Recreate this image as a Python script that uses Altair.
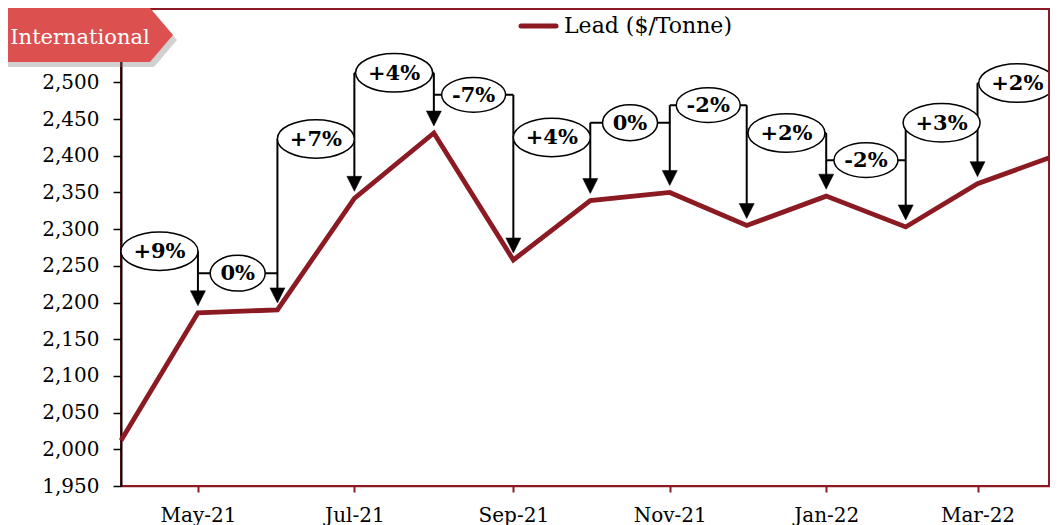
import altair as alt
import pandas as pd

# ---------------- data ----------------
months = ["2021-04-01", "2021-05-01", "2021-06-01", "2021-07-01", "2021-08-01",
          "2021-09-01", "2021-10-01", "2021-11-01", "2021-12-01", "2022-01-01",
          "2022-02-01", "2022-03-01", "2022-04-01"]
lead_prices = [2012, 2186, 2190, 2342, 2431, 2258, 2339, 2350, 2305, 2345, 2303, 2362, 2401]
change_labels = ["+9%", "0%", "+7%", "+4%", "-7%", "+4%", "0%", "-2%", "+2%", "-2%", "+3%", "+2%"]
label_levels = [2270, 2240, 2423, 2513, 2483, 2425, 2445, 2469, 2431, 2394, 2445, 2499]
tick_months = [(2021, 5), (2021, 7), (2021, 9), (2021, 11), (2022, 1), (2022, 3)]
y_ticks = list(range(1950, 2601, 50))
series_name = "Lead ($/Tonne)"
badge_text = "International"

RED = "#8C1A22"
FONT = "DejaVu Serif"

PLOT_W = 936   # full x range of the data (right end runs to the window edge)
VIEW_W = 929   # visible view width (keeps the page from being shrunk)
PLOT_H = 477


def iso(ts):
    return pd.Timestamp(ts).strftime("%Y-%m-%dT%H:%M:%SZ")


dates = [pd.Timestamp(m) for m in months]

line_df = pd.DataFrame({"date": [iso(d) for d in dates], "price": lead_prices})

lab_rows = []
for i in range(1, len(dates)):
    prev, cur = dates[i - 1], dates[i]
    txt = change_labels[i - 1]
    kind = "plus" if txt.startswith("+") else ("minus" if txt.startswith("-") else "zero")
    lab_rows.append({
        "start": iso(prev), "end": iso(cur), "mid": iso(prev + (cur - prev) / 2),
        "level": label_levels[i - 1], "text": txt, "kind": kind,
    })
lab_df = pd.DataFrame(lab_rows)

arr_rows = []
for i in range(1, len(dates)):
    here = label_levels[i - 1]
    nxt = label_levels[i] if i < len(label_levels) else here
    arr_rows.append({"date": iso(dates[i]), "price": lead_prices[i], "top": max(here, nxt)})
arr_df = pd.DataFrame(arr_rows)

x_scale = alt.Scale(type="utc", nice=False, padding=0, range=[0, PLOT_W])
y_scale = alt.Scale(domain=[1950, 2600], nice=False, zero=False)

x_axis = alt.Axis(
    values=[alt.DateTime(year=y, month=m, date=1, utc=True) for y, m in tick_months],
    labelExpr="utcFormat(datum.value, '%b-%y')",
    title=None, grid=False, labelOverlap=False,
    labelFont=FONT, labelFontSize=20, labelColor="black", labelPadding=13,
    tickColor=RED, tickSize=6, tickWidth=2,
    domainColor=RED, domainWidth=1.5,
)
y_axis = alt.Axis(
    values=y_ticks, labelExpr="format(datum.value, ',')", title=None, grid=False,
    labelOverlap=False, labelFlush=False,
    labelFont=FONT, labelFontSize=20, labelColor="black", labelPadding=14,
    tickColor="black", tickSize=8, tickWidth=1.5,
    domainColor="black", domainWidth=2,
)


def X(field):
    return alt.X(field, scale=x_scale, axis=x_axis)


def Y(field):
    return alt.Y(field, scale=y_scale, axis=y_axis)


line = alt.Chart(line_df).mark_line(color=RED, strokeWidth=4.8).encode(
    x=X("date:T"), y=Y("price:Q")
)

connectors = alt.Chart(lab_df).mark_rule(color="black", strokeWidth=2).encode(
    x=X("start:T"), x2="end:T", y=Y("level:Q")
)

shafts = alt.Chart(arr_df).mark_rule(color="black", strokeWidth=2, y2Offset=-20).encode(
    x=X("date:T"), y=Y("top:Q"), y2="price:Q"
)

heads = alt.Chart(arr_df).mark_point(
    shape="M-1,-1 L1,-1 L0,1 Z", size=225, filled=True, fill="black",
    stroke="black", strokeWidth=0.5, opacity=1, yOffset=-14.5,
).encode(x=X("date:T"), y=Y("price:Q"))


def ellipse(a, b):
    return f"M{-a},0 A{a},{b} 0 1,1 {a},0 A{a},{b} 0 1,1 {-a},0 Z"


ellipses = alt.Chart(lab_df).mark_point(
    size=77 * 77, filled=True, fill="white", stroke="black", strokeWidth=1.5,
    opacity=1, fillOpacity=1, strokeOpacity=1,
).encode(
    x=X("mid:T"), y=Y("level:Q"),
    shape=alt.Shape("kind:N", legend=None, scale=alt.Scale(
        domain=["plus", "minus", "zero"],
        range=[ellipse(1, 0.5), ellipse(0.831, 0.45), ellipse(0.714, 0.465)])),
)

texts = alt.Chart(lab_df).mark_text(
    font=FONT, fontSize=21, fontWeight="bold", color="black", baseline="middle", dy=1
).encode(x=X("mid:T"), y=Y("level:Q"), text="text:N")

# right frame edge (the view's own right stroke falls on the page edge)
frame_df = pd.DataFrame({"k": ["frame"]})
right_edge = alt.Chart(frame_df).mark_rule(color=RED, strokeWidth=2).encode(
    x=alt.value(VIEW_W - 1), y=alt.value(0), y2=alt.value(PLOT_H)
)

# legend (drawn manually inside the plot, as in the reference)
leg_df = pd.DataFrame({"name": [series_name]})
leg_line = alt.Chart(leg_df).mark_rule(color=RED, strokeWidth=5, strokeCap="round").encode(
    x=alt.value(400), x2=alt.value(435), y=alt.value(17)
)
leg_text = alt.Chart(leg_df).mark_text(
    font=FONT, fontSize=22, color="black", align="left", baseline="middle"
).encode(x=alt.value(443), y=alt.value(17), text="name:N")

# "International" badge
badge_df = pd.DataFrame({"t": [badge_text]})
badge_path = "M-1,-0.318 L0.729,-0.318 L1,0 L0.729,0.318 L-1,0.318 Z"
badge_shadow = alt.Chart(badge_df).mark_point(
    shape=badge_path, size=170 * 170, filled=True, fill="#7a7a7a", opacity=0.35, strokeWidth=0
).encode(x=alt.value(-29), y=alt.value(31))
badge = alt.Chart(badge_df).mark_point(
    shape=badge_path, size=170 * 170, filled=True, fill="#DC5050", opacity=1, strokeWidth=0
).encode(x=alt.value(-33), y=alt.value(26))
badge_label = alt.Chart(badge_df).mark_text(
    font=FONT, fontSize=21, color="white", baseline="middle"
).encode(x=alt.value(-41), y=alt.value(29), text="t:N")

chart = alt.layer(
    line, connectors, shafts, heads, ellipses, texts, right_edge,
    leg_line, leg_text, badge_shadow, badge, badge_label,
).properties(
    width=VIEW_W, height=PLOT_H,
    autosize=alt.AutoSizeParams(type="none"),
    padding={"left": 113, "top": 1, "right": 0, "bottom": 40},
    background="white",
).configure_view(stroke=RED, strokeWidth=2)

chart.save("out.html", embed_options={"renderer": "svg", "actions": False})
